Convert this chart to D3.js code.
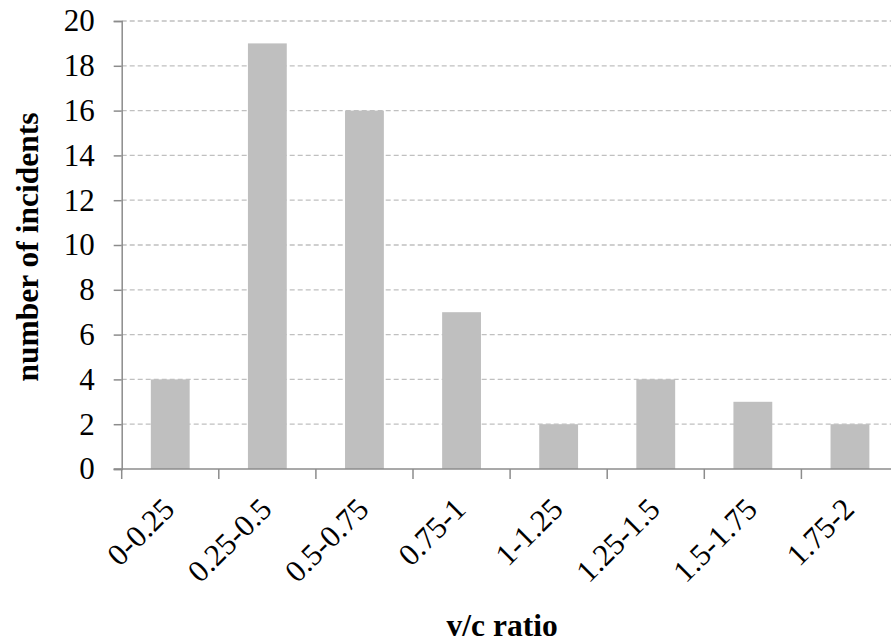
<!DOCTYPE html>
<html>
<head>
<meta charset="utf-8">
<script src="https://cdn.jsdelivr.net/npm/d3@7"></script>
<style>
  html, body { margin: 0; padding: 0; background: #fff; }
  svg { display: block; }
</style>
</head>
<body>
<script>
const categories = ["0-0.25", "0.25-0.5", "0.5-0.75", "0.75-1", "1-1.25", "1.25-1.5", "1.5-1.75", "1.75-2"];
const incidents = [4, 19, 16, 7, 2, 4, 3, 2];
const yTicks = [0, 2, 4, 6, 8, 10, 12, 14, 16, 18, 20];
const xTitle = "v/c ratio";
const yTitle = "number of incidents";

const W = 891, H = 644;
const mLeft = 121.7, mRight = 898.5, mTop = 21, mBottom = 469;
const FONT = "'Liberation Serif', 'Times New Roman', serif";

const svg = d3.select("body").append("svg").attr("width", W).attr("height", H);

const x = d3.scaleBand().domain(categories).range([mLeft, mRight]).padding(0);
const y = d3.scaleLinear().domain([0, 20]).range([mBottom, mTop]);

// gridlines
svg.append("g").selectAll("line").data(yTicks.filter(d => d > 0)).join("line")
  .attr("x1", mLeft).attr("x2", W + 10)
  .attr("y1", d => y(d)).attr("y2", d => y(d))
  .attr("stroke", "#c0c0c0").attr("stroke-width", 1.3)
  .attr("stroke-dasharray", "5,3");

// bars
const bw = x.bandwidth() * 0.4;
svg.append("g").selectAll("rect").data(incidents).join("rect")
  .attr("x", (d, i) => x(categories[i]) + x.bandwidth() / 2 - bw / 2)
  .attr("width", bw)
  .attr("y", d => y(d))
  .attr("height", d => y(0) - y(d))
  .attr("fill", "#bfbfbf");

// y axis
const yAxis = d3.axisLeft(y).tickValues(yTicks).tickSize(8).tickPadding(19).tickFormat(d3.format("d"));
const gy = svg.append("g").attr("transform", `translate(${mLeft},0)`).call(yAxis);
gy.attr("font-family", null).attr("font-size", null);
gy.select(".domain").attr("stroke", "#8c8c8c").attr("stroke-width", 1.5);
gy.selectAll(".tick line").attr("stroke", "#8c8c8c").attr("stroke-width", 1.5);
gy.selectAll(".tick text").style("font-size", "31px").style("font-family", FONT).attr("fill", "#000");

// x axis
const xAxis = d3.axisBottom(x).tickSize(0).tickFormat("");
const gx = svg.append("g").attr("transform", `translate(0,${mBottom})`).call(xAxis);
gx.attr("font-family", null).attr("font-size", null);
gx.select(".domain").attr("stroke", "#8c8c8c").attr("stroke-width", 1.5).attr("d", `M${mLeft - 8},0H${mRight}`);
gx.selectAll(".tick").remove();
const bounds = categories.map(c => x(c)).concat([x.range()[1]]);
gx.selectAll("line.bt").data(bounds).join("line").attr("class", "bt")
  .attr("x1", d => d).attr("x2", d => d).attr("y1", 0).attr("y2", 10)
  .attr("stroke", "#8c8c8c").attr("stroke-width", 1.5);
gx.selectAll("text.lab").data(categories).join("text").attr("class", "lab")
  .attr("transform", d => `translate(${x(d) + x.bandwidth() / 2 + 6},${42}) rotate(-45)`)
  .attr("text-anchor", "end")
  .style("font-size", "31px").style("font-family", FONT)
  .attr("fill", "#000")
  .text(d => d);

// titles
svg.append("text")
  .attr("x", (mLeft + mRight) / 2 - 8).attr("y", 636)
  .attr("text-anchor", "middle")
  .style("font-weight", "bold").style("font-size", "31.5px").style("font-family", FONT)
  .text(xTitle);
svg.append("text")
  .attr("transform", `translate(38,${(mTop + mBottom) / 2 + 2}) rotate(-90)`)
  .attr("text-anchor", "middle")
  .style("font-weight", "bold").style("font-size", "31.5px").style("font-family", FONT)
  .text(yTitle);
</script>
</body>
</html>
